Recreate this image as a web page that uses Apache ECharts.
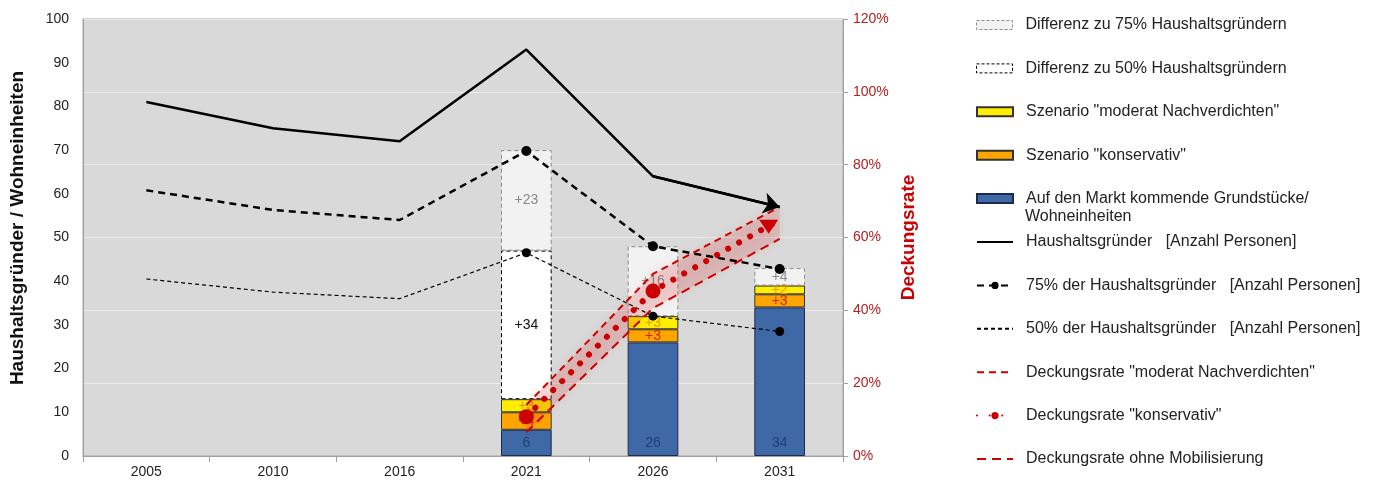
<!DOCTYPE html>
<html>
<head>
<meta charset="utf-8">
<script src="https://cdn.jsdelivr.net/npm/echarts@6/dist/echarts.min.js"></script>
<style>
  html, body { margin: 0; padding: 0; background: #fff; }
  #chart { width: 1386px; height: 482px; }
</style>
</head>
<body>
<div id="chart"></div>
<script>
// Jahre (Kategorien)
const years = ['2005', '2010', '2016', '2021', '2026', '2031'];

// Wohneinheiten (gestapelte Säulen)
const markt = [null, null, null, 6, 26, 34];
const szKonservativ = [null, null, null, 4, 3, 3];
const szModerat = [null, null, null, 3, 3, 2];
const diff50 = [null, null, null, 34, null, null];
const diff75 = [null, null, null, 23, 16, 4];

// Haushaltsgründer [Anzahl Personen]
const gruender = [81, 75, 72, 93, 64, 57];
const gruender75 = [60.8, 56.3, 54, 69.8, 48, 42.8];
const gruender50 = [40.5, 37.5, 36, 46.5, 32, 28.5];

// Deckungsraten in %
const rateModerat = [null, null, null, 14, 50, 68.4];
const rateKonservativ = [null, null, null, 10.8, 45.3, 64.9];
const rateOhne = [null, null, null, 6.5, 40.6, 59.6];

// Achsen
const leftAxis = { min: 0, max: 100, step: 10 };
const rightAxis = { min: 0, max: 120, step: 20 };

const FONT = '"Liberation Sans", Arial, Helvetica, sans-serif';
const RED = '#cc0000';

const names = {
  d75: 'Differenz zu 75% Haushaltsgründern',
  d50: 'Differenz zu 50% Haushaltsgründern',
  mod: 'Szenario "moderat Nachverdichten"',
  kon: 'Szenario "konservativ"',
  markt: 'Auf den Markt kommende Grundstücke/\nWohneinheiten',
  hg: 'Haushaltsgründer   [Anzahl Personen]',
  hg75: '75% der Haushaltsgründer   [Anzahl Personen]',
  hg50: '50% der Haushaltsgründer   [Anzahl Personen]',
  rMod: 'Deckungsrate "moderat Nachverdichten"',
  rKon: 'Deckungsrate "konservativ"',
  rOhne: 'Deckungsrate ohne Mobilisierung'
};

// legend entries; lines without markers get an invisible legend symbol
const legendOrder = [
  { name: names.d75, icon: 'rect', itemStyle: { borderType: [3, 2], borderColor: '#8c8c8c', borderWidth: 1 } },
  { name: names.d50, icon: 'rect', itemStyle: { borderType: [3, 2], borderColor: '#000', borderWidth: 1 } },
  { name: names.mod, icon: 'rect' },
  { name: names.kon, icon: 'rect' },
  { name: names.markt, icon: 'rect', firstLineOnly: true },
  { name: names.hg, itemStyle: { opacity: 0 } },
  { name: names.hg75 },
  { name: names.hg50, itemStyle: { opacity: 0 } },
  { name: names.rMod, itemStyle: { opacity: 0 } },
  { name: names.rKon },
  { name: names.rOhne, itemStyle: { opacity: 0 } }
];

const LEGEND_X = 976;
const LEGEND_Y0 = 25;
const LEGEND_STEP = 43.4;
const LEGEND_FONT = 16;

// one legend block per entry, evenly spaced down the right side
const legends = legendOrder.map(function (it, i) {
  const center = LEGEND_Y0 + LEGEND_STEP * i;
  const item = { name: it.name };
  if (it.icon) item.icon = it.icon;
  if (it.itemStyle) item.itemStyle = it.itemStyle;
  const lg = {
    orient: 'vertical',
    left: LEGEND_X,
    top: center - 10,
    padding: 0,
    itemWidth: 36,
    itemHeight: 9,
    selectedMode: false,
    textStyle: { fontFamily: FONT, fontSize: LEGEND_FONT, color: '#222', lineHeight: 20, padding: [0, 0, 0, 8] },
    data: [item]
  };
  if (it.firstLineOnly) {
    lg.formatter = function (n) { return n.split('\n')[0]; };
  }
  return lg;
});

// continuation line of the two-line legend entry
const marktIdx = legendOrder.findIndex(function (it) { return it.firstLineOnly; });
const legendExtra = [{
  type: 'text',
  left: LEGEND_X + 36 + 5 + 8,
  top: LEGEND_Y0 + LEGEND_STEP * marktIdx + 10,
  style: { text: names.markt.split('\n')[1], fontFamily: FONT, fontSize: LEGEND_FONT, fill: '#222' }
}];

const barLabel = function (color, prefix, pos) {
  return {
    show: true,
    position: pos || 'inside',
    distance: 6,
    color: color,
    fontFamily: FONT,
    fontSize: 14,
    formatter: function (p) { return p.value == null ? '' : prefix + p.value; }
  };
};

const withSymbols = function (arr, from, symbol) {
  return arr.map(function (v, i) {
    return i >= from ? { value: v, symbol: symbol } : { value: v, symbol: 'none' };
  });
};

const chart = echarts.init(document.getElementById('chart'), null, { renderer: 'canvas' });

chart.setOption({
  animation: false,
  backgroundColor: '#ffffff',
  textStyle: { fontFamily: FONT },
  legend: legends,
  graphic: legendExtra,
  grid: {
    left: 83, right: 543, top: 19, bottom: 26,
    show: true, backgroundColor: '#d9d9d9', borderColor: '#a6a6a6', borderWidth: 1
  },
  xAxis: {
    type: 'category',
    data: years,
    boundaryGap: true,
    axisLine: { lineStyle: { color: '#a0a0a0' } },
    axisTick: { show: true, interval: 0, length: 6, lineStyle: { color: '#a0a0a0' } },
    axisLabel: { color: '#222', fontSize: 14, margin: 9, fontFamily: FONT },
    splitLine: { show: false }
  },
  yAxis: [
    {
      type: 'value',
      min: leftAxis.min, max: leftAxis.max, interval: leftAxis.step,
      name: 'Haushaltsgründer / Wohneinheiten',
      nameLocation: 'middle',
      nameRotate: 90,
      nameGap: 56,
      nameTextStyle: { color: '#111', fontSize: 19, fontWeight: 'bold', fontFamily: FONT, padding: [0, 0, 0, 19] },
      axisLine: { show: true, lineStyle: { color: '#a0a0a0' } },
      axisTick: { show: false },
      axisLabel: { color: '#222', fontSize: 14, margin: 14, fontFamily: FONT },
      splitLine: { show: false }
    },
    {
      type: 'value',
      position: 'right',
      min: rightAxis.min, max: rightAxis.max, interval: rightAxis.step,
      name: 'Deckungsrate',
      nameLocation: 'middle',
      nameRotate: 90,
      nameGap: 53,
      nameTextStyle: { color: RED, fontSize: 19, fontWeight: 'bold', fontFamily: FONT },
      axisLine: { show: true, lineStyle: { color: '#a0a0a0' } },
      axisTick: { show: true, length: 5, lineStyle: { color: '#a0a0a0' } },
      axisLabel: { color: '#b52020', fontSize: 14, margin: 10, fontFamily: FONT, formatter: '{value}%' },
      splitLine: { show: true, lineStyle: { color: '#ebebeb', width: 1 } }
    }
  ],
  series: [
    {
      name: names.markt, type: 'bar', stack: 'we', barWidth: '40%', data: markt,
      itemStyle: { color: '#3e68a6', borderColor: '#1c2b4a', borderWidth: 1 },
      label: barLabel('#1f3f7c', '', 'insideBottom')
    },
    {
      name: names.kon, type: 'bar', stack: 'we', data: szKonservativ,
      itemStyle: { color: '#ffa500', borderColor: '#333', borderWidth: 1 },
      label: barLabel('#c8281e', '+')
    },
    {
      name: names.mod, type: 'bar', stack: 'we', data: szModerat,
      itemStyle: { color: '#ffee00', borderColor: '#333', borderWidth: 1 },
      label: barLabel('#e89a00', '+')
    },
    {
      name: names.d50, type: 'bar', stack: 'we', data: diff50,
      itemStyle: { color: '#ffffff', borderColor: '#000', borderWidth: 1, borderType: [4, 3] },
      label: barLabel('#111', '+')
    },
    {
      name: names.d75, type: 'bar', stack: 'we', data: diff75,
      itemStyle: { color: '#f2f2f2', borderColor: '#8c8c8c', borderWidth: 1, borderType: [4, 3] },
      label: barLabel('#8a8a8a', '+')
    },
    // shaded corridor between the two bounding rates
    {
      name: 'bandBase', type: 'line', yAxisIndex: 1, stack: 'band', data: rateOhne,
      symbol: 'none', lineStyle: { opacity: 0 }, silent: true
    },
    {
      name: 'band', type: 'line', yAxisIndex: 1, stack: 'band',
      data: rateModerat.map(function (v, i) { return v == null ? null : v - rateOhne[i]; }),
      symbol: 'none', lineStyle: { opacity: 0 }, silent: true,
      areaStyle: { color: 'rgba(215, 40, 40, 0.22)', shadowBlur: 12, shadowColor: 'rgba(215, 40, 40, 0.45)' }
    },
    {
      name: names.rMod, type: 'line', yAxisIndex: 1, data: rateModerat, symbol: 'none',
      lineStyle: { color: RED, width: 2, type: [7, 5] }, itemStyle: { color: RED }
    },
    {
      name: names.rOhne, type: 'line', yAxisIndex: 1, data: rateOhne, symbol: 'none',
      lineStyle: { color: RED, width: 2, type: [9, 6] }, itemStyle: { color: RED }
    },
    {
      name: names.rKon, type: 'line', yAxisIndex: 1,
      data: rateKonservativ.map(function (v, i) {
        if (i === 5) return { value: v, symbol: 'triangle', symbolRotate: 180, symbolSize: [19, 14], symbolOffset: [-11, 7] };
        return { value: v };
      }),
      symbol: 'circle', symbolSize: 15, showSymbol: true,
      lineStyle: { color: RED, width: 6, type: [0.1, 12.5], cap: 'round' },
      itemStyle: { color: RED }
    },
    {
      name: names.hg50, type: 'line', data: withSymbols(gruender50, 3, 'circle'),
      symbol: 'none', symbolSize: 9,
      lineStyle: { color: '#000', width: 1.2, type: [4, 3] }, itemStyle: { color: '#000' }
    },
    {
      name: names.hg75, type: 'line', data: withSymbols(gruender75, 3, 'circle'),
      symbol: 'circle', symbolSize: 10,
      lineStyle: { color: '#000', width: 2.5, type: [7, 5] }, itemStyle: { color: '#000' }
    },
    {
      name: names.hg, type: 'line', data: gruender, symbol: 'none',
      lineStyle: { color: '#000', width: 2.5 }, itemStyle: { color: '#000' },
      markLine: {
        silent: true,
        symbol: ['none', 'arrow'],
        symbolSize: 16,
        label: { show: false },
        lineStyle: { color: '#000', width: 2.5, type: 'solid' },
        data: [[
          { coord: [years[4], gruender[4]] },
          { coord: [years[5], gruender[5]] }
        ]]
      }
    }
  ]
});
</script>
</body>
</html>
